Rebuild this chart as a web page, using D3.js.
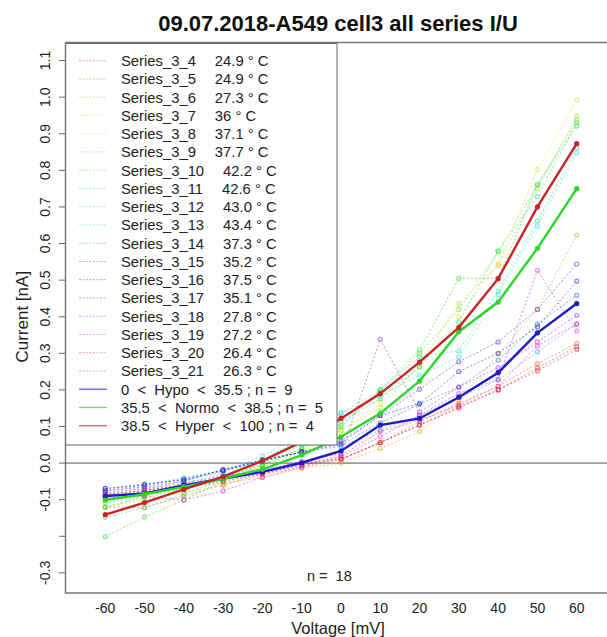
<!DOCTYPE html>
<html>
<head>
<meta charset="utf-8">
<script src="https://cdn.jsdelivr.net/npm/d3@7"></script>
<style>
  body { margin: 0; background: #fff; }
  svg { font-family: "Liberation Sans", Arial, sans-serif; display: block; }
  text { white-space: pre; }
</style>
</head>
<body>
<div id="chart"></div>
<script>
const voltages = [-60, -50, -40, -30, -20, -10, 0, 10, 20, 30, 40, 50, 60];
const yTicks = [-0.3, -0.2, -0.1, 0.0, 0.1, 0.2, 0.3, 0.4, 0.5, 0.6, 0.7, 0.8, 0.9, 1.0, 1.1];
const yTickLabels = ["-0.3", "", "-0.1", "0.0", "0.1", "0.2", "0.3", "0.4", "0.5", "0.6", "0.7", "0.8", "0.9", "1.0", "1.1"];

const seriesNames = ["Series_3_4", "Series_3_5", "Series_3_6", "Series_3_7", "Series_3_8", "Series_3_9",
  "Series_3_10", "Series_3_11", "Series_3_12", "Series_3_13", "Series_3_14", "Series_3_15",
  "Series_3_16", "Series_3_17", "Series_3_18", "Series_3_19", "Series_3_20", "Series_3_21"];
const seriesTemps = ["24.9", "24.9", "27.3", "36", "37.1", "37.7", "42.2", "42.6", "43.0",
  "43.4", "37.3", "35.2", "37.5", "35.1", "27.8", "27.2", "26.4", "26.3"];

// measured currents [nA], one value per voltage step
const s3_4  = [-0.085, -0.075, -0.060, -0.045, -0.028, -0.005, 0.010, 0.056, 0.104, 0.154, 0.200, 0.252, 0.311];
const s3_5  = [-0.120, -0.122, -0.090, -0.060, -0.030, -0.012, 0.010, 0.056, 0.113, 0.163, 0.210, 0.272, 0.327];
const s3_6  = [-0.090, -0.080, -0.065, -0.055, -0.040, -0.015, 0.000, 0.040, 0.086, 0.170, 0.298, 0.420, 0.623];
const s3_7  = [-0.120, -0.100, -0.080, -0.060, -0.010, 0.030, 0.088, 0.163, 0.263, 0.400, 0.544, 0.802, 0.992];
const s3_8  = [-0.121, -0.095, -0.070, -0.045, -0.010, 0.035, 0.090, 0.150, 0.270, 0.436, 0.540, 0.750, 0.948];
const s3_9  = [-0.110, -0.090, -0.070, -0.040, -0.005, 0.040, 0.104, 0.195, 0.300, 0.420, 0.577, 0.760, 0.937];
const s3_10 = [-0.201, -0.147, -0.101, -0.050, -0.005, 0.040, 0.100, 0.201, 0.309, 0.505, 0.505, 0.762, 0.921];
const s3_11 = [-0.148, -0.122, -0.085, -0.045, 0.000, 0.050, 0.115, 0.176, 0.263, 0.386, 0.580, 0.728, 0.930];
const s3_12 = [-0.121, -0.090, -0.055, -0.030, 0.010, 0.065, 0.136, 0.200, 0.290, 0.307, 0.470, 0.662, 0.861];
const s3_13 = [-0.100, -0.074, -0.048, -0.023, 0.019, 0.077, 0.137, 0.183, 0.240, 0.290, 0.460, 0.648, 0.848];
const s3_14 = [-0.075, -0.060, -0.040, -0.020, 0.005, 0.030, 0.045, 0.090, 0.130, 0.180, 0.227, 0.304, 0.380];
const s3_15 = [-0.069, -0.057, -0.045, -0.020, 0.005, 0.030, 0.050, 0.110, 0.161, 0.208, 0.281, 0.379, 0.459];
const s3_16 = [-0.070, -0.060, -0.045, -0.020, 0.008, 0.030, 0.060, 0.130, 0.163, 0.250, 0.300, 0.372, 0.497];
const s3_17 = [-0.076, -0.065, -0.050, -0.017, 0.008, 0.031, 0.054, 0.130, 0.202, 0.277, 0.331, 0.420, 0.544];
const s3_18 = [-0.080, -0.070, -0.055, -0.035, -0.020, 0.005, 0.026, 0.338, 0.140, 0.208, 0.261, 0.331, 0.404];
const s3_19 = [-0.095, -0.090, -0.101, -0.076, -0.039, -0.010, 0.017, 0.072, 0.131, 0.190, 0.229, 0.527, 0.361];
const s3_20 = [-0.090, -0.080, -0.065, -0.050, -0.030, -0.005, 0.020, 0.086, 0.117, 0.158, 0.210, 0.320, 0.380];
const s3_21 = [-0.085, -0.075, -0.060, -0.040, -0.025, 0.000, 0.012, 0.056, 0.104, 0.150, 0.200, 0.260, 0.318];
const seriesValues = [s3_4, s3_5, s3_6, s3_7, s3_8, s3_9, s3_10, s3_11, s3_12, s3_13,
  s3_14, s3_15, s3_16, s3_17, s3_18, s3_19, s3_20, s3_21];

// group means
const groupNames = ["0  <  Hypo  <  35.5 ; n =  9", "35.5  <  Normo  <  38.5 ; n =  5", "38.5  <  Hyper  <  100 ; n =  4"];
const hypoMean  = [-0.090, -0.083, -0.061, -0.042, -0.024, 0.001, 0.033, 0.104, 0.122, 0.180, 0.247, 0.356, 0.436];
const normoMean = [-0.101, -0.085, -0.065, -0.042, -0.017, 0.022, 0.072, 0.136, 0.224, 0.359, 0.440, 0.587, 0.750];
const hyperMean = [-0.141, -0.108, -0.072, -0.037, 0.006, 0.058, 0.122, 0.190, 0.276, 0.371, 0.504, 0.700, 0.873];
const groupValues = [hypoMean, normoMean, hyperMean];
const groupColors = ["#1c1cc8", "#2bd62b", "#c92424"];

const W = 607, H = 637;
const svg = d3.select("#chart").append("svg").attr("width", W).attr("height", H);

const x = d3.scaleLinear().domain([-70, 70]).range([66, 616]);
const y = d3.scaleLinear().domain([-0.355, 1.148]).range([593, 43]);

// rainbow palette, slightly darkened like the picture
const seriesColor = i => d3.hsl(i * 360 / 18, 0.85, 0.47).formatHex();

// title
svg.append("text")
  .attr("x", 338).attr("y", 31)
  .attr("text-anchor", "middle")
  .attr("font-size", 22).attr("font-weight", "bold").attr("fill", "#111")
  .text("09.07.2018-A549 cell3 all series I/U");

// zero line
svg.append("line")
  .attr("x1", 66).attr("x2", W).attr("y1", y(0)).attr("y2", y(0))
  .attr("stroke", "#555").attr("stroke-width", 1);

const line = d3.line().x((d, i) => x(voltages[i])).y(d => y(d));

// individual series
seriesValues.forEach((vals, i) => {
  const g = svg.append("g").attr("opacity", 0.5);
  g.append("path")
    .attr("d", line(vals))
    .attr("fill", "none")
    .attr("stroke", seriesColor(i))
    .attr("stroke-width", 1)
    .attr("stroke-dasharray", "2,2");
  g.selectAll("circle").data(vals).enter().append("circle")
    .attr("cx", (d, k) => x(voltages[k]))
    .attr("cy", d => y(d))
    .attr("r", 2)
    .attr("fill", "none")
    .attr("stroke", seriesColor(i))
    .attr("stroke-width", 1.2);
});

// group means
groupValues.forEach((vals, i) => {
  svg.append("path")
    .attr("d", line(vals))
    .attr("fill", "none")
    .attr("stroke", groupColors[i])
    .attr("stroke-width", 2.4);
  svg.append("g").selectAll("circle").data(vals).enter().append("circle")
    .attr("cx", (d, k) => x(voltages[k]))
    .attr("cy", d => y(d))
    .attr("r", 2.6)
    .attr("fill", groupColors[i]);
});

// legend
const lg = svg.append("g");
lg.append("rect")
  .attr("x", 65.5).attr("y", 43.5).attr("width", 271.5).attr("height", 401.5)
  .attr("fill", "#fff").attr("stroke", "#666").attr("stroke-width", 1);
const rowY = i => 60.7 + i * 18.25;
seriesNames.forEach((name, i) => {
  lg.append("line")
    .attr("x1", 79).attr("x2", 107).attr("y1", rowY(i)).attr("y2", rowY(i))
    .attr("stroke", seriesColor(i)).attr("stroke-opacity", 0.4)
    .attr("stroke-width", 1).attr("stroke-dasharray", "2,1.5");
  const t = lg.append("text")
    .attr("x", 121).attr("y", rowY(i) + 5.3)
    .attr("font-size", 14.8).attr("fill", "#222");
  t.append("tspan").text(name);
  t.append("tspan").attr("dx", 19).text(seriesTemps[i] + " \u00B0 C");
});
groupNames.forEach((name, j) => {
  const i = seriesNames.length + j;
  lg.append("line")
    .attr("x1", 79).attr("x2", 107).attr("y1", rowY(i)).attr("y2", rowY(i))
    .attr("stroke", groupColors[j]).attr("stroke-opacity", 0.7).attr("stroke-width", 1.3);
  lg.append("text")
    .attr("x", 121).attr("y", rowY(i) + 5.3)
    .attr("font-size", 14.8).attr("fill", "#222")
    .text(name);
});

// plot box
svg.append("rect")
  .attr("x", 65.5).attr("y", 42.5).attr("width", 560).attr("height", 550.5)
  .attr("fill", "none").attr("stroke", "#777").attr("stroke-width", 1.5);

// y axis ticks & labels
const yAxis = svg.append("g");
yTicks.forEach((v, i) => {
  yAxis.append("line")
    .attr("x1", 59).attr("x2", 65).attr("y1", y(v)).attr("y2", y(v))
    .attr("stroke", "#666").attr("stroke-width", 1);
  if (yTickLabels[i]) {
    yAxis.append("text")
      .attr("transform", `translate(50,${y(v)}) rotate(-90)`)
      .attr("text-anchor", "middle")
      .attr("font-size", 14).attr("fill", "#222")
      .text(yTickLabels[i]);
  }
});

// x axis labels (no tick marks)
svg.append("g").selectAll("text").data(voltages).enter().append("text")
  .attr("x", d => x(d)).attr("y", 613)
  .attr("text-anchor", "middle")
  .attr("font-size", 14).attr("fill", "#222")
  .text(d => d);

svg.append("text")
  .attr("x", 338).attr("y", 634)
  .attr("text-anchor", "middle")
  .attr("font-size", 16.5).attr("fill", "#222")
  .text("Voltage [mV]");

svg.append("text")
  .attr("transform", `translate(28,${y(0.4)}) rotate(-90)`)
  .attr("text-anchor", "middle")
  .attr("font-size", 17).attr("fill", "#222")
  .text("Current [nA]");

svg.append("text")
  .attr("x", 307).attr("y", 581)
  .attr("font-size", 14.5).attr("fill", "#222")
  .text("n =  18");
</script>
</body>
</html>
